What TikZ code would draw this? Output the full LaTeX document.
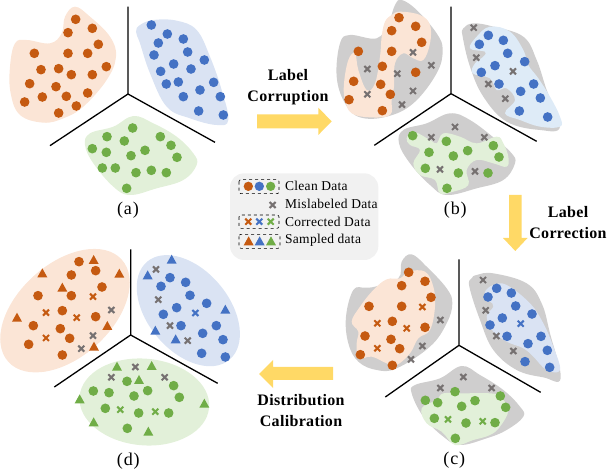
\documentclass[tikz,border=0pt]{standalone}
\usepackage{fontspec}
\setmainfont{Liberation Serif}
\definecolor{cO}{HTML}{C55A11}
\definecolor{cB}{HTML}{4472C4}
\definecolor{cG}{HTML}{70AD47}
\definecolor{lO}{HTML}{FBE5D6}
\definecolor{lB}{HTML}{DAE3F3}
\definecolor{lBb}{HTML}{DEEBF7}
\definecolor{lG}{HTML}{E2F0D9}
\definecolor{gBlob}{HTML}{CFCECE}
\definecolor{gX}{HTML}{767171}
\definecolor{arrowY}{HTML}{FFD966}
\definecolor{legBg}{HTML}{F1F1F1}
\newcommand{\blob}[2]{\fill[#1] plot[smooth cycle,tension=0.65] coordinates {#2};}
\newcommand{\rdots}[2]{\foreach \p in {#2} \fill[#1] \p circle[radius=14.5];}
\newcommand{\crs}[2]{\foreach \p in {#2} \draw[#1,line width=2.1pt,shift={\p}] (-9,-9)--(9,9) (-9,9)--(9,-9);}
\newcommand{\tris}[2]{\foreach \p in {#2} \fill[#1,shift={\p}] (0,-15)--(15,12)--(-15,12)--cycle;}
\newcommand{\axes}[4]{\coordinate (ctr) at (#1); \draw[line width=1.3pt,line join=round] (#2)--(ctr)--(#3) (ctr)--(#4);}
\tikzset{
  zoomed/.style 2 args={shift={(#1pt,-#2pt)},x=0.33333pt,y=-0.33333pt},
  boldlabel/.style={font=\fontsize{16}{21}\selectfont\bfseries\addfontfeatures{LetterSpace=2},align=center,inner sep=0pt},
  panellabel/.style={font=\fontsize{18}{20}\selectfont\addfontfeatures{LetterSpace=5},inner sep=0pt},
  legtext/.style={font=\fontsize{13.5}{16}\selectfont\addfontfeatures{LetterSpace=2},anchor=west,inner sep=0pt},
  dashbox/.style={draw=black,dashed,line width=0.6pt,rounded corners=2pt},
  bigarrow/.style={fill=arrowY,draw=none}
}
\begin{document}
\begin{tikzpicture}[x=1pt,y=-1pt]
\useasboundingbox (0,0) rectangle (608,470);
% ---------- panel a
\begin{scope}[zoomed={0}{0}]
\blob{lO}{(225,20) (270,50) (330,110) (348,170) (320,240) (250,320) (190,355) (130,368) (60,345) (32,280) (30,200) (45,130) (80,120) (150,130) (185,100) (195,50)}
\blob{lB}{(420,75) (460,60) (530,62) (590,90) (630,170) (665,270) (685,360) (650,375) (570,355) (500,320) (450,220) (420,130) (408,95)}
\blob{lG}{(400,348) (460,370) (530,410) (580,460) (590,495) (550,540) (470,565) (390,585) (340,560) (280,490) (255,435) (270,400) (340,380)}
\rdots{cO}{(227,58),(277,85),(204,98),(295,133),(103,160),(204,160),(263,160),(123,209),(176,206),(214,224),(277,224),(319,200),(89,251),(168,260),(263,279),(127,291),(199,289),(74,306),(229,318),(176,339)}
\rdots{cB}{(454,75),(502,102),(550,117),(475,129),(563,156),(462,165),(613,180),(521,192),(573,207),(482,214),(535,246),(499,252),(641,247),(600,270),(550,290),(661,290),(596,333),(670,345)}
\rdots{cG}{(398,384),(321,410),(373,423),(481,410),(513,436),(277,446),(319,457),(435,451),(393,467),(531,472),(307,504),(346,504),(408,518),(454,511),(499,518),(380,565)}
\axes{384,282}{384,20}{150,437}{645,427}
\node[panellabel] (labA) at (384,632) {(a)};
\end{scope}
% ---------- panel b
\begin{scope}[zoomed={320}{0}]
\blob{gBlob}{(245,0) (290,30) (350,100) (368,150) (350,220) (280,310) (200,350) (120,352) (75,310) (50,230) (60,130) (90,105) (170,115) (205,70) (225,15)}
\blob{lO}{(215,45) (240,35) (300,45) (330,75) (330,130) (310,180) (280,175) (250,160) (225,190) (222,260) (215,300) (210,345) (150,352) (95,340) (75,300) (72,250) (85,180) (105,160) (115,210) (140,270) (165,250) (180,170) (185,110) (195,65)}
\blob{gBlob}{(460,70) (520,80) (610,110) (650,180) (680,270) (720,380) (660,390) (560,365) (490,290) (450,200) (428,110) (430,85)}
\blob{lBb}{(470,110) (510,80) (570,95) (610,150) (625,195) (655,235) (690,290) (720,350) (720,380) (660,380) (600,360) (555,340) (585,300) (560,265) (530,270) (510,235) (458,220) (465,190) (490,170) (495,155) (450,145)}
\blob{gBlob}{(390,340) (450,360) (530,420) (575,460) (585,490) (550,540) (470,565) (380,585) (330,555) (270,490) (237,430) (250,390) (320,370)}
\blob{lG}{(260,415) (280,395) (330,420) (350,430) (370,400) (420,410) (470,430) (530,410) (550,430) (565,470) (560,500) (520,490) (470,480) (440,510) (445,555) (400,575) (360,580) (345,540) (300,525) (280,490) (300,450) (270,435)}
\rdots{cO}{(237,53),(287,79),(215,92),(305,127),(115,154),(215,154),(187,199),(287,217),(101,244),(182,253),(211,283),(87,299),(187,332)}
\crs{gX}{(279,157),(334,196),(142,207),(232,221),(279,273),(142,283),(246,314)}
\rdots{cB}{(505,106),(550,121),(478,133),(563,160),(614,185),(525,197),(484,217),(537,252),(641,252),(602,274),(661,294),(598,333),(683,351)}
\crs{gX}{(461,83),(469,173),(579,214),(505,252),(556,296)}
\rdots{cG}{(278,407),(379,424),(520,437),(327,457),(443,452),(400,468),(537,471),(316,505),(415,519),(504,519),(381,565)}
\crs{gX}{(405,381),(334,412),(493,412),(360,508),(465,514)}
\axes{393,281}{393,20}{163,436}{650,424}
\node[panellabel] (labB) at (406,632) {(b)};
\end{scope}
% ---------- panel c
\begin{scope}[zoomed={330}{250}]
\blob{gBlob}{(245,13) (290,50) (350,115) (367,160) (350,220) (300,290) (200,355) (140,360) (85,335) (55,280) (48,200) (70,120) (105,113) (135,110) (205,85) (215,35)}
\blob{lO}{(235,65) (285,65) (310,110) (315,170) (300,240) (265,265) (240,310) (200,345) (170,340) (125,320) (85,325) (80,280) (85,245) (65,215) (90,170) (130,120) (170,88) (210,85)}
\blob{gBlob}{(440,75) (490,70) (590,100) (635,160) (660,250) (692,385) (640,382) (560,360) (490,300) (450,210) (418,110) (425,85)}
\blob{lB}{(490,105) (530,105) (600,160) (640,220) (670,290) (690,360) (650,360) (610,320) (580,295) (530,275) (490,245) (470,200) (490,170) (480,155) (465,150) (465,125)}
\blob{gBlob}{(395,348) (450,375) (520,420) (570,470) (580,500) (530,540) (470,565) (390,585) (340,560) (280,500) (245,430) (255,405) (330,385)}
\blob{lG}{(275,475) (320,450) (340,430) (400,430) (480,430) (510,440) (535,480) (510,530) (480,555) (430,570) (375,585) (335,545) (290,520)}
\rdots{cO}{(236,67),(285,94),(215,107),(303,142),(117,169),(215,169),(187,214),(285,232),(105,258),(183,268),(209,296),(91,314),(187,346)}
\crs{cO}{(277,171),(142,220),(230,235),(142,295)}
\crs{gX}{(331,210),(277,288),(243,328)}
\rdots{cB}{(500,115),(544,129),(474,141),(557,168),(606,192),(517,204),(480,225),(531,259),(633,259),(594,281),(652,301),(585,335),(659,352)}
\crs{cB}{(572,221)}
\crs{gX}{(459,90),(467,181),(499,258),(550,303)}
\rdots{cG}{(375,425),(511,438),(286,451),(323,458),(435,452),(395,469),(527,472),(313,505),(408,519),(495,518),(376,565)}
\crs{cG}{(354,508),(458,514)}
\crs{gX}{(400,381),(331,414),(485,414)}
\axes{387,286}{387,28}{166,441}{632,427}
\node[panellabel] (labC) at (373,632) {(c)};
\end{scope}
% ---------- panel d
\begin{scope}[zoomed={0}{240}]
\fill[lO] (195,212) ellipse[x radius=229,y radius=140,rotate=42];
\fill[lB] (565,212) ellipse[x radius=192,y radius=122,rotate=-50];
\fill[lG] (433,486) ellipse[x radius=195,y radius=130,rotate=-5];
\rdots{cO}{(237,65),(287,92),(214,105),(306,141),(114,167),(214,167),(187,212),(287,230),(100,257),(181,266),(209,295),(86,313),(187,345)}
\tris{cO}{(281,60),(127,100),(358,101),(187,143),(51,233),(322,258),(282,320)}
\crs{cO}{(279,170),(138,218),(230,233),(138,294)}
\crs{gX}{(334,210),(279,287),(244,326)}
\rdots{cB}{(510,113),(557,127),(483,139),(570,166),(620,190),(530,203),(490,223),(543,257),(649,257),(608,280),(669,299),(605,340),(676,351)}
\tris{cB}{(515,59),(443,106),(676,209),(466,272),(527,298)}
\crs{cB}{(586,219)}
\crs{gX}{(468,88),(475,179),(510,257),(563,302)}
\rdots{cG}{(381,424),(521,437),(280,453),(327,458),(443,452),(402,468),(538,472),(316,505),(416,519),(506,519),(382,565)}
\tris{cG}{(351,380),(455,378),(417,420),(239,478),(613,491),(281,547),(445,575)}
\crs{cG}{(361,509),(466,515)}
\crs{gX}{(406,381),(334,412),(494,412)}
\axes{392,285}{392,28}{163,441}{653,430}
\node[panellabel] (labD) at (385,663) {(d)};
\end{scope}
% ---------- legend
\begin{scope}[zoomed={225}{165}]
\fill[legBg,rounded corners=14pt] (15,25) rectangle (460,285);
\draw[dashbox] (42,44) rectangle (162,86);
\draw[dashbox] (42,150) rectangle (162,190);
\draw[dashbox] (42,208) rectangle (165,250);
\fill[cO] (70,64) circle[radius=14]; \fill[cB] (103,64) circle[radius=14]; \fill[cG] (137,64) circle[radius=14];
\crs{gX}{(143,120)}
\crs{cO}{(70,170)} \crs{cB}{(103,170)} \crs{cG}{(137,170)}
\tris{cO}{(71,229)} \tris{cB}{(104,229)} \tris{cG}{(138,229)}
\node[legtext] (legA) at (180,63) {Clean Data};
\node[legtext] (legB) at (180,117) {Mislabeled Data};
\node[legtext] (legC) at (180,171) {Corrected Data};
\node[legtext] (legD) at (180,225) {Sampled data};
\end{scope}
% ---------- arrows
\fill[bigarrow] (257,114.3)--(318.3,114.3)--(318.3,107.7)--(331.7,121.3)--(318.3,135)--(318.3,128.3)--(257,128.3)--cycle;
\fill[bigarrow] (509,195)--(521.7,195)--(521.7,238)--(527.5,238)--(515.3,251)--(503,238)--(509,238)--cycle;
\fill[bigarrow] (333,367)--(273,367)--(273,360)--(259,374)--(273,388)--(273,380)--(333,380)--cycle;
\node[boldlabel] (t1) at (288,87.5) {Label\\Corruption};
\node[boldlabel] (t2) at (568,223) {Label\\Correction};
\node[boldlabel] (t3) at (301,411) {Distribution\\Calibration};
\end{tikzpicture}
\end{document}
